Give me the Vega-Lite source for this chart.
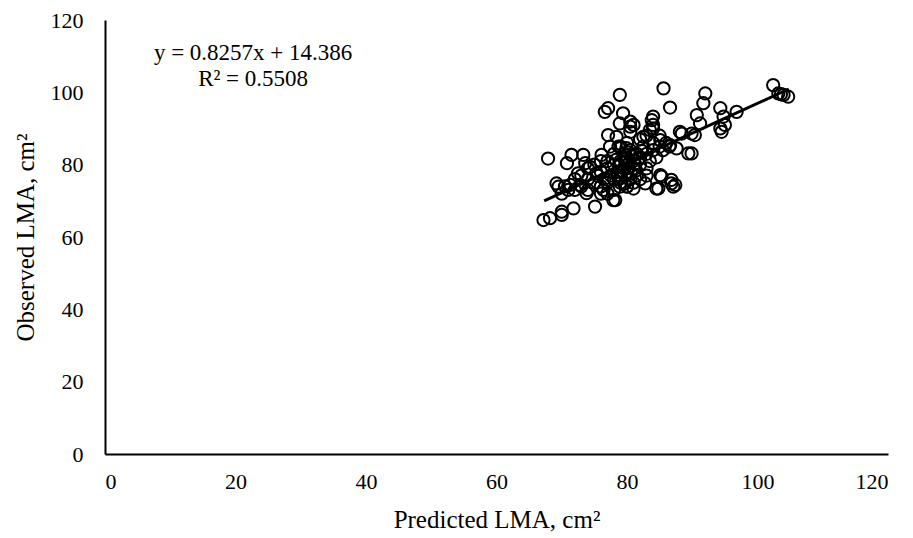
{
  "$schema": "https://vega.github.io/schema/vega-lite/v6.json",
  "width": 783,
  "height": 434,
  "autosize": {"type": "none"},
  "padding": {"left": 105, "top": 20, "right": 25, "bottom": 84},
  "background": "white",
  "config": {
    "view": {"stroke": null},
    "font": "Liberation Serif",
    "axis": {"grid": false, "domainColor": "black", "domainWidth": 2, "ticks": false, "labelFont": "Liberation Serif", "titleFont": "Liberation Serif", "labelColor": "black", "titleColor": "black", "titleFontWeight": "normal"}
  },
  "datasets": {
    "pts": [
      {"p": 67.9, "o": 81.7}, {"p": 67.2, "o": 64.7}, {"p": 68.2, "o": 65.2}, {"p": 70.0, "o": 66.1},
      {"p": 70.0, "o": 67.0}, {"p": 71.8, "o": 67.9}, {"p": 69.5, "o": 73.9}, {"p": 69.2, "o": 74.8},
      {"p": 70.8, "o": 80.4}, {"p": 71.5, "o": 82.7}, {"p": 73.3, "o": 82.7}, {"p": 73.6, "o": 80.4},
      {"p": 71.3, "o": 74.4}, {"p": 72.8, "o": 74.4}, {"p": 75.1, "o": 68.4}, {"p": 77.9, "o": 70.2},
      {"p": 76.1, "o": 82.7}, {"p": 77.4, "o": 85.0}, {"p": 78.7, "o": 85.0}, {"p": 72.5, "o": 77.6},
      {"p": 74.3, "o": 79.4}, {"p": 75.3, "o": 77.6}, {"p": 76.4, "o": 73.0}, {"p": 73.8, "o": 72.1},
      {"p": 77.1, "o": 75.8}, {"p": 78.9, "o": 73.9}, {"p": 79.7, "o": 74.8}, {"p": 78.2, "o": 70.2},
      {"p": 80.0, "o": 73.9}, {"p": 81.0, "o": 73.4}, {"p": 84.5, "o": 73.4}, {"p": 85.1, "o": 77.1},
      {"p": 86.8, "o": 75.8}, {"p": 87.4, "o": 74.4}, {"p": 82.8, "o": 74.8}, {"p": 89.4, "o": 83.1},
      {"p": 87.6, "o": 84.5}, {"p": 89.9, "o": 88.6}, {"p": 88.4, "o": 88.6}, {"p": 86.6, "o": 85.4},
      {"p": 85.1, "o": 86.8}, {"p": 83.5, "o": 89.6}, {"p": 84.0, "o": 91.0}, {"p": 81.0, "o": 91.0},
      {"p": 80.5, "o": 89.1}, {"p": 82.5, "o": 87.7}, {"p": 78.4, "o": 87.7}, {"p": 78.9, "o": 91.4},
      {"p": 80.5, "o": 91.9}, {"p": 78.9, "o": 99.3}, {"p": 76.6, "o": 94.6}, {"p": 77.1, "o": 95.6},
      {"p": 79.4, "o": 94.2}, {"p": 85.6, "o": 101.1}, {"p": 86.6, "o": 95.8}, {"p": 83.8, "o": 92.3},
      {"p": 84.0, "o": 93.3}, {"p": 80.5, "o": 90.5}, {"p": 77.1, "o": 88.2}, {"p": 92.0, "o": 99.7},
      {"p": 91.7, "o": 97.0}, {"p": 90.7, "o": 93.7}, {"p": 91.2, "o": 91.4}, {"p": 88.1, "o": 89.1},
      {"p": 102.4, "o": 102.0}, {"p": 103.2, "o": 99.7}, {"p": 104.0, "o": 99.3}, {"p": 104.7, "o": 98.8},
      {"p": 103.6, "o": 99.5}, {"p": 94.3, "o": 95.6}, {"p": 96.8, "o": 94.6}, {"p": 94.8, "o": 93.3},
      {"p": 95.0, "o": 91.0}, {"p": 94.3, "o": 90.0}, {"p": 94.5, "o": 89.1}, {"p": 90.4, "o": 88.2},
      {"p": 89.9, "o": 83.1}, {"p": 84.8, "o": 73.4}, {"p": 86.8, "o": 74.8}, {"p": 87.1, "o": 73.9},
      {"p": 85.3, "o": 76.7},
      {"p": 74, "o": 76}, {"p": 75, "o": 75}, {"p": 75.5, "o": 77}, {"p": 76, "o": 74}, {"p": 76, "o": 78},
      {"p": 76.5, "o": 76}, {"p": 77, "o": 75}, {"p": 77, "o": 79}, {"p": 77.5, "o": 77}, {"p": 78, "o": 76},
      {"p": 78, "o": 80}, {"p": 78.5, "o": 78}, {"p": 79, "o": 77}, {"p": 79, "o": 81}, {"p": 79.5, "o": 79},
      {"p": 79.5, "o": 83}, {"p": 80, "o": 78}, {"p": 80, "o": 80}, {"p": 80, "o": 82}, {"p": 80.5, "o": 76},
      {"p": 80.5, "o": 84}, {"p": 81, "o": 79}, {"p": 81, "o": 81}, {"p": 81.5, "o": 83}, {"p": 81.5, "o": 77},
      {"p": 82, "o": 80}, {"p": 82, "o": 82}, {"p": 82.5, "o": 85}, {"p": 83, "o": 79}, {"p": 83, "o": 83},
      {"p": 83.5, "o": 81}, {"p": 84, "o": 84}, {"p": 84, "o": 86}, {"p": 84.5, "o": 82}, {"p": 85, "o": 85},
      {"p": 85.5, "o": 84}, {"p": 86, "o": 86}, {"p": 86.5, "o": 85}, {"p": 78, "o": 73}, {"p": 77, "o": 72},
      {"p": 79, "o": 75}, {"p": 80, "o": 74}, {"p": 81, "o": 75}, {"p": 82, "o": 76}, {"p": 83, "o": 77},
      {"p": 75, "o": 80}, {"p": 74, "o": 79}, {"p": 73, "o": 77}, {"p": 72, "o": 76}, {"p": 71, "o": 73},
      {"p": 70, "o": 72}, {"p": 70.5, "o": 74}, {"p": 72, "o": 73}, {"p": 73, "o": 74}, {"p": 74, "o": 73},
      {"p": 76, "o": 72}, {"p": 78, "o": 83}, {"p": 77, "o": 81}, {"p": 82, "o": 87}, {"p": 83, "o": 88},
      {"p": 84, "o": 90}, {"p": 85, "o": 88}, {"p": 80, "o": 86}, {"p": 79, "o": 85}, {"p": 76, "o": 81},
      {"p": 78.8, "o": 79.6}, {"p": 79.3, "o": 78.2}, {"p": 79.8, "o": 80.7}, {"p": 80.3, "o": 79.1},
      {"p": 80.8, "o": 82.5}, {"p": 81.2, "o": 80.3}, {"p": 79.6, "o": 81.8}, {"p": 80.6, "o": 77.6},
      {"p": 81.8, "o": 81.6}, {"p": 78.3, "o": 81.3}, {"p": 79.1, "o": 76.3}, {"p": 80.2, "o": 83.4},
      {"p": 81.4, "o": 78.4}, {"p": 82.3, "o": 83.8}, {"p": 78.6, "o": 77.1}, {"p": 79.9, "o": 84.6}
    ],
    "trend": [{"p": 67.3, "o": 69.96}, {"p": 104.8, "o": 100.92}],
    "labels": [
      {"p": 22.7, "o": 108.9, "t": "y = 0.8257x + 14.386"},
      {"p": 22.7, "o": 101.7, "t": "R² = 0.5508"}
    ]
  },
  "layer": [
    {
      "data": {"name": "pts"},
      "mark": {"type": "point", "shape": "circle", "filled": false, "stroke": "black", "strokeWidth": 2, "size": 150, "opacity": 1},
      "encoding": {
        "x": {"field": "p", "type": "quantitative", "scale": {"domain": [0, 120], "nice": false}, "axis": {"values": [0, 20, 40, 60, 80, 100, 120], "title": "Predicted LMA, cm²", "labelFontSize": 22, "titleFontSize": 25, "labelPadding": 17, "titlePadding": 15}},
        "y": {"field": "o", "type": "quantitative", "scale": {"domain": [0, 120], "nice": false}, "axis": {"values": [0, 20, 40, 60, 80, 100, 120], "title": "Observed LMA, cm²", "labelFontSize": 22, "titleFontSize": 25, "labelPadding": 22, "titlePadding": 12}}
      }
    },
    {
      "data": {"name": "trend"},
      "mark": {"type": "line", "color": "black", "strokeWidth": 3},
      "encoding": {
        "x": {"field": "p", "type": "quantitative"},
        "y": {"field": "o", "type": "quantitative"}
      }
    },
    {
      "data": {"name": "labels"},
      "mark": {"type": "text", "align": "center", "baseline": "alphabetic", "fontSize": 23, "font": "Liberation Serif", "color": "black"},
      "encoding": {
        "x": {"field": "p", "type": "quantitative"},
        "y": {"field": "o", "type": "quantitative"},
        "text": {"field": "t"}
      }
    }
  ]
}
